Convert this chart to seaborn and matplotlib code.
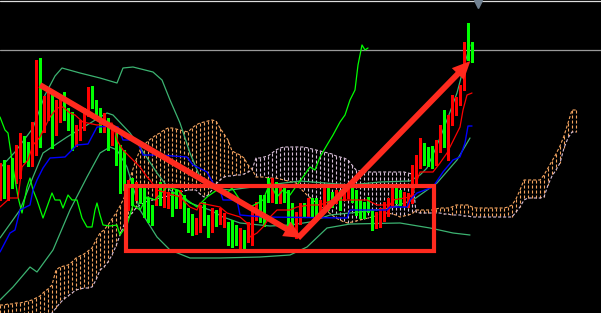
import numpy as np
import matplotlib
matplotlib.use("Agg")
import matplotlib.pyplot as plt
import seaborn as sns
from matplotlib.patches import Rectangle, FancyArrowPatch

# ---------------- data (price scale grows downward: axis is inverted) ----------------
open_ = np.array([190,168,195,165,178,172,140,148,162,150, 83,127,113, 97,130,118, 98,113,117,142,
                  137,127,113, 95,103,112,128,123,140,138,155,160,203,185,196,190,193,203,210,200,
                  187,202,203,197,195,203,200,215,220,230,227,207,220,227,215,220,223,227,226,230,
                  243,235,237,240,215,200,200,185,197,187,198,190,207,208,222,220,208,213,203,203,
                  212,203,193,197,198,195,195,193,192,195,205,207,202,215,223,223,217,212,203,193,
                  195,202,203,197,178,163,148,152,150,160,148,128,133,118,110,100, 63, 47, 48])
high = np.array([163,160,165,158,145,133,136,142,122, 60, 58, 96, 90, 92,100, 95, 92,108,112,125,
                 120,108, 87, 86,100,108,113,118,128,133,145,150,180,178,182,185,188,198,205,186,
                 182,187,192,192,190,190,195,208,214,218,205,202,215,208,210,208,213,222,220,225,
                 228,230,222,210,202,195,195,178,178,182,188,185,190,203,212,203,203,198,198,198,
                 200,188,188,192,190,190,185,186,187,190,200,202,197,210,212,208,202,198,188,188,
                 190,192,193,165,155,138,143,147,146,140,125,110,115, 95, 97, 85, 42, 23, 42])
low = np.array([200,198,200,188,183,178,162,166,166,155,147,132,120,148,135,122,120,130,150,146,
                140,130,116,108,118,132,132,150,145,165,193,190,210,205,200,203,217,222,225,205,
                205,207,208,216,208,208,222,232,235,234,232,225,237,232,226,224,227,245,247,245,
                248,250,242,245,220,222,226,202,202,203,203,202,226,227,238,224,216,217,216,217,
                216,207,210,207,203,210,200,198,202,215,218,218,212,230,228,227,221,216,207,203,
                205,206,207,203,185,168,165,166,168,165,152,147,160,125,115,105, 90, 60, 62])
close = np.array([170,190,172,182,150,138,155,160,128, 77,125,102, 97,140,105,100,115,125,147,130,
                  125,112, 92,105,112,127,118,140,132,160,178,180,190,198,188,197,212,217,220,192,
                  200,192,197,212,203,195,217,228,230,223,210,220,232,213,222,213,218,240,242,240,
                  233,247,227,215,207,217,222,197,183,198,193,197,222,222,217,208,212,202,212,213,
                  205,193,205,203,195,205,190,190,198,210,213,213,208,222,217,213,207,203,193,198,
                  200,197,198,173,165,147,160,162,163,148,130,142,120,100,103, 90, 47, 52, 52])

# Ichimoku senkou spans (already shifted 26 bars ahead)
span_a = np.array([305,305,304,304,303,303,302,301,300,298,296,292,289,285,270,267,266,265,262,258,
                   256,254,251,248,240,233,230,225,219,213,206,198,186,172,160,150,145,141,138,135,
                   133,130,128,128,129,130,131,132,128,125,123,122,121,120,121,128,134,140,151,153,
                   155,158,165,169,
                   177,177,177,178,178,178,179,180,181,182,183,188,192,196,199,203,206,209,212,215,
                   218,220,222,223,222,221,220,219,218,217,216,214,213,213,214,215,217,216,215,214,
                   210,210,210,210,210,209,208,208,208,207,205,205,205,205,207,208,208,208,208,208,
                   208,208,208,207,205,199,190,180,180,180,180,180,175,168,161,154,146,136,123,110,
                   110])
span_b = np.array([345,343,341,339,337,335,333,331,328,325,322,319,316,313,308,303,299,296,293,290,
                   289,288,288,287,280,270,267,262,255,246,235,225,218,213,208,205,203,201,200,199,
                   198,197,196,195,193,192,191,190,190,190,194,197,195,190,184,180,177,176,176,175,
                   175,174,172,170,
                   158,158,157,156,153,150,148,147,147,147,147,147,147,148,149,150,151,152,153,154,
                   156,157,158,160,165,170,171,172,172,172,172,172,172,172,172,172,172,172,173,174,
                   212,213,213,213,213,213,213,214,214,215,215,215,216,216,217,217,217,217,217,217,
                   217,217,217,217,217,212,207,200,198,198,198,198,197,185,176,170,163,148,138,132,
                   132])

# Bollinger bands (bar index, level)
bb_up_x = [0,3.75,8.25,11.25,13.75,15.5,20,25,29.25,30.75,33.25,38.25,40.5,42.5,45,47.5,50,52.5,57.5,65,
           75,87.5,95,102.5,105,106.75,108.75,110.5,112.5,114.25,115.75,117.5]
bb_up_y = [168,152,128,95,76,68,73,78,83,68,67,72,80,100,123,153,177,188,190,186,
           181,185,182,181,175,168,150,133,112,93,70,45]
bb_mid_x = [0,5,8.25,10.75,16.75,21.75,26.75,28.25,32.5,35,39.25,42.5,47.5,52.5,55.75,60,67.5,72.5,77.5,
            82.5,90,97.5,103.25,109.25,114.25,117.5]
bb_mid_y = [238,210,177,153,137,125,113,115,133,147,173,190,203,210,217,223,226,225,222,
            215,212,208,200,183,160,138]
bb_low_x = [0,3.25,7.5,9.25,13.25,17.5,21.75,25,27.5,29.25,31.75,35,39.25,42.5,47.5,55,65,72.5,76.75,
            81.75,87.5,100,107.5,113.25,117.5]
bb_low_y = [300,287,267,272,250,210,177,153,147,150,167,210,237,250,258,258,257,255,247,
            228,224,223,228,233,235]

# Tenkan-sen (red), Kijun-sen (blue), Chikou span (lime)
tenkan_x = [0,2.5,4.5,5.5,7,8.25,10,11.25,12.5,14.25,15.75,17.5,18.75,20.75,24.25,28,28.75,29.5,30.75,35,
            36.75,37.5,39.25,45,47.5,49.25,50,55,56.75,60,61.75,62.5,64.25,65.75,67.5,69.25,72.5,74.25,
            77.5,80,83.25,91.75,94.25,97.5,98.25,102.5,103.25,105,108.25,110,111.75,112.5,115,115.75,
            116.75,118]
tenkan_y = [207,198,198,167,160,145,137,127,117,108,107,113,115,122,125,123,132,142,150,167,
            177,180,190,197,207,210,203,207,213,217,223,237,233,227,217,210,210,207,
            205,205,200,200,205,205,200,197,192,172,172,163,153,147,127,110,
            95,93]
kijun_x = [0,2.5,3.75,5,7.5,8.25,9.25,10.75,12.5,16.25,17.5,19.25,22,24.25,28,29.5,30.75,34.25,35.75,40,
           46.75,48.25,51.75,53.25,55,55.75,59.25,60,65.75,86.75,87.5,96.75,97.5,101.75,102.5,104.25,
           108.25,110.75,113.25,115,116.25,117,118]
kijun_y = [252,233,230,210,205,190,180,168,158,157,152,145,144,127,126,127,140,140,155,155,
           157,165,172,183,190,200,200,215,217,218,210,210,207,207,200,193,
           187,172,160,157,143,126,126]
chikou_x = [0,1.25,2,3.25,4.5,5.5,6.75,7.5,8.25,9.25,10.75,13,13.75,15,15.75,17,18,19.25,20.5,21.75,
            23,23.75,24.25,25,25.75,27.5,29.25,30,31.75,33.25,35,36.75,38.75,41.75,44.5,46.75,49.25,
            51.75,54.25,56.25,58,60,62.5,64.5,65.75,67.5,69.25,70.75,72.5,74.25,75.75,77.5,78.75,80,
            81.75,83.25,85,86.25,87.5,88.75,89.5,90.5,91.25,92]
chikou_y = [117,130,133,167,197,213,187,178,190,200,218,193,200,200,208,195,200,200,218,227,
            227,210,203,215,225,226,225,235,225,205,210,197,200,187,190,200,207,
            197,190,195,188,200,207,203,200,183,197,190,195,185,177,167,170,157,
            145,135,122,115,100,90,65,45,50,48]

# ---------------- style ----------------
sns.set_theme(style="dark", rc={"axes.facecolor": "black", "figure.facecolor": "black"})
plt.rcParams["lines.scale_dashes"] = False

RED_C = "#FF0000"
GREEN_C = "#00FF00"
SANDY = "#F4A460"
THISTLE = "#D8BFD8"
SEA = "#3CB371"
ANNOT = "#FF2A1E"

fig = plt.figure(figsize=(6.01, 3.13), dpi=100, facecolor="black")
ax = fig.add_axes([0, 0, 1, 1])
ax.set_facecolor("black")

# ---------------- cloud ----------------
cloud_x = np.arange(len(span_a))
up = span_a <= span_b
dash = (0, (2.2, 1.4))
ax.vlines(cloud_x[up], span_a[up], span_b[up], colors=SANDY, linestyles=dash, lw=0.8, zorder=1)
ax.vlines(cloud_x[~up], span_b[~up], span_a[~up], colors=THISTLE, linestyles=dash, lw=0.8, zorder=1)
sns.lineplot(x=cloud_x, y=span_a, ax=ax, color=SANDY, lw=0.8, linestyle=dash, estimator=None, zorder=1)
sns.lineplot(x=cloud_x, y=span_b, ax=ax, color=THISTLE, lw=0.8, linestyle=dash, estimator=None, zorder=1)

# ---------------- Bollinger ----------------
for bx, by in ((bb_up_x, bb_up_y), (bb_mid_x, bb_mid_y), (bb_low_x, bb_low_y)):
    sns.lineplot(x=bx, y=by, ax=ax, color=SEA, lw=0.9, estimator=None, zorder=2)

# ---------------- candles ----------------
bars = np.arange(len(open_))
cols = np.where(close < open_, RED_C, GREEN_C)
ax.vlines(bars, high, low, colors=cols, lw=0.8, zorder=3, antialiased=False)
body_h = np.maximum(np.abs(close - open_), 1.2)
ax.bar(bars, body_h, bottom=np.minimum(open_, close), width=0.66, color=cols,
       linewidth=0, zorder=3, antialiased=False)

# ---------------- Ichimoku lines ----------------
sns.lineplot(x=chikou_x, y=chikou_y, ax=ax, color=GREEN_C, lw=0.9, estimator=None, zorder=4)
sns.lineplot(x=kijun_x, y=kijun_y, ax=ax, color="#0000FF", lw=1.0, estimator=None, zorder=4)
sns.lineplot(x=tenkan_x, y=tenkan_y, ax=ax, color=RED_C, lw=0.9, estimator=None, zorder=4)

# ---------------- price line / marks ----------------
ax.axhline(50, color="#9A9A9A", lw=0.9, zorder=2)
ax.axhline(1.2, color="#DDDDDD", lw=0.9, zorder=2)
ax.plot([119.5], [3.5], marker="v", ms=6, color="#708090", zorder=5)

# ---------------- annotations ----------------
style = "simple,head_length=1.3,head_width=1.2,tail_width=0.42"
a1 = FancyArrowPatch((10, 85), (75.5, 238), arrowstyle=style, mutation_scale=10,
                     color=ANNOT, lw=0, shrinkA=0, shrinkB=0, zorder=6)
a2 = FancyArrowPatch((74.5, 238), (117.6, 61), arrowstyle=style, mutation_scale=10,
                     color=ANNOT, lw=0, shrinkA=0, shrinkB=0, zorder=6)
ax.add_patch(a1)
ax.add_patch(a2)
ax.add_patch(Rectangle((31.4, 185.5), 77.0, 65.5, fill=False, edgecolor=ANNOT, lw=3.0, zorder=6))

ax.set_xlim(0, 150.25)
ax.set_ylim(313, 0)
ax.set_axis_off()

fig.savefig("out.png", dpi=100, facecolor="black")
